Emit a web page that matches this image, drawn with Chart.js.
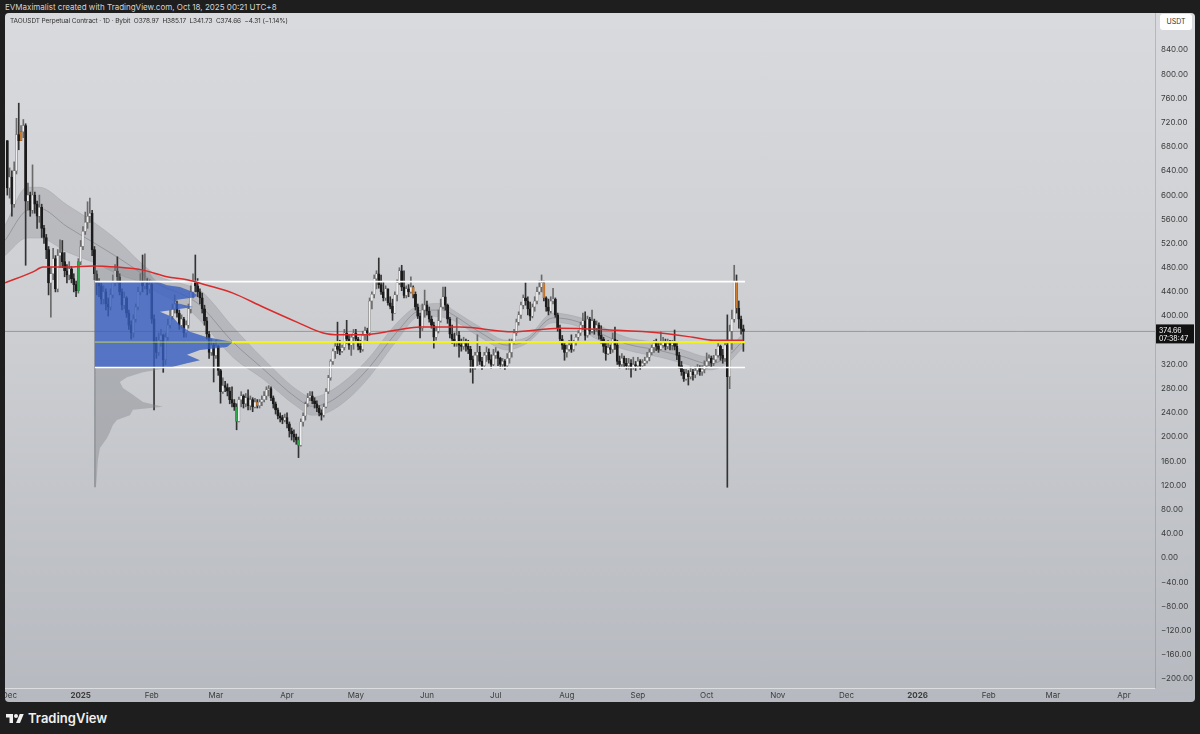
<!DOCTYPE html>
<html>
<head>
<meta charset="utf-8">
<title>TAOUSDT 1D</title>
<script src="https://cdn.jsdelivr.net/npm/chart.js@4.4.1/dist/chart.umd.min.js"></script>
<style>
  body { margin: 0; width: 1200px; height: 734px; background: #1e1e1e; overflow: hidden; position: relative; font-family: Inter, "Noto Sans", sans-serif; }
  #header { position: absolute; left: 5px; top: 2px; font-size: 8px; color: #d4d4d4; white-space: nowrap; }
  #panel { position: absolute; left: 5px; top: 13px; width: 1190px; height: 689px; border-radius: 4px; overflow: hidden;
           background: linear-gradient(180deg, #d9dadd 0%, #cbcdd1 50%, #b6b9bf 100%); }
  #chart { position: absolute; left: 0; top: 0; }
  #legend { position: absolute; left: 5px; top: 4px; font-size: 6.5px; letter-spacing: -0.1px; color: #2f2f2f; white-space: nowrap; }
  #unit { position: absolute; left: 1155px; top: 1px; width: 32px; height: 16px; background: #fff; border-radius: 3px;
          font-size: 7px; color: #333; text-align: center; line-height: 16px; }
  #footer { position: absolute; left: 6px; top: 710px; display: flex; align-items: center; gap: 4px;
            font-size: 13px; font-weight: 600; color: #f0f0f0; }
</style>
</head>
<body>
<div id="header">EVMaximalist created with TradingView.com, Oct 18, 2025 00:21 UTC+8</div>
<div id="panel">
  <canvas id="chart" width="1190" height="689"></canvas>
  <div id="legend">TAOUSDT Perpetual Contract · 1D · Bybit&nbsp; O378.97&nbsp; H385.17&nbsp; L341.73&nbsp; C374.66&nbsp; −4.31 (−1.14%)</div>
  <div id="unit">USDT</div>
</div>
<div id="footer">
  <svg width="18" height="12" viewBox="0 0 36 24"><path d="M14 22H7V11H0V4h14v18z" fill="#f0f0f0"/><circle cx="20" cy="8" r="4" fill="#f0f0f0"/><path d="M28 22h-8l7.5-18h8L28 22z" fill="#f0f0f0"/></svg>
  <span>TradingView</span>
</div>
<script>
// dia 0 = 1 dez 2024, um candle por dia
const firstDay = -1;
const firstOpen = 690;

const closes = [
  612, 630, 585, 640, 700, 690, 705, 715, 590, 600,
  575, 600, 585, 565, 580, 545, 530, 510, 455, 470,
  495, 445, 500, 505, 490, 475, 468, 478, 462, 452,
  442, 490, 515, 540, 555, 565, 570, 510, 470, 455,
  450, 428, 440, 420, 415, 435, 455, 475, 465, 440,
  418, 430, 405, 385, 372, 395, 415, 440, 458, 450,
  455, 445, 452, 395, 355, 340, 360, 368, 328, 365,
  385, 400, 412, 420, 405, 385, 395, 372, 385, 412,
  440, 458, 450, 440, 430, 412, 392, 370, 340, 352,
  335, 350, 310, 275, 285, 282, 276, 262, 256, 250,
  226, 262, 268, 255, 265, 252, 262, 250, 258, 252,
  258, 262, 268, 278, 280, 265, 255, 245, 235, 232,
  228, 232, 222, 210, 205, 200, 195, 186, 225, 235,
  255, 265, 268, 260, 255, 248, 240, 236, 250, 275,
  298, 325, 342, 350, 345, 342, 348, 372, 362, 352,
  365, 372, 362, 350, 345, 368, 376, 372, 425, 436,
  462, 470, 452, 440, 430, 445, 422, 416, 405, 435,
  455, 475, 448, 434, 445, 440, 448, 436, 415, 400,
  380, 410, 418, 408, 395, 385, 365, 375, 392, 415,
  432, 418, 395, 370, 362, 358, 368, 352, 350, 355,
  350, 345, 328, 315, 335, 340, 325, 318, 335, 340,
  328, 320, 335, 340, 330, 320, 325, 318, 330, 340,
  358, 372, 390, 402, 418, 430, 425, 412, 400, 415,
  425, 440, 448, 455, 430, 415, 408, 425, 428, 402,
  380, 362, 352, 340, 345, 352, 345, 356, 365, 372,
  385, 392, 368, 395, 375, 392, 380, 385, 368, 362,
  350, 338, 348, 345, 362, 352, 325, 320, 330, 322,
  318, 322, 315, 320, 318, 325, 318, 322, 326, 332,
  340, 348, 355, 350, 345, 352, 358, 350, 355, 352,
  355, 350, 335, 318, 308, 296, 305, 300, 308, 303,
  310, 315, 308, 312, 318, 325, 330, 322, 328, 335,
  350, 335, 330, 352, 300, 375, 395, 458, 413, 395, 378.97, 374.66
];

const highs = [
  690, 645, 640, 655, 727, 752, 715, 725, 718, 620,
  605, 650, 605, 590, 600, 585, 550, 535, 515, 480,
  512, 500, 510, 526, 525, 505, 485, 490, 482, 470,
  458, 495, 525, 548, 572, 589, 595, 575, 515, 475,
  462, 455, 450, 445, 430, 445, 468, 485, 498, 470,
  445, 440, 432, 410, 392, 402, 420, 448, 470, 501,
  503, 462, 460, 455, 402, 365, 372, 378, 370, 372,
  395, 410, 420, 435, 425, 410, 402, 398, 392, 420,
  450, 470, 501, 462, 445, 438, 418, 398, 375, 362,
  355, 360, 352, 312, 298, 292, 288, 282, 283, 262,
  255, 266, 275, 270, 272, 278, 268, 265, 264, 262,
  262, 268, 275, 283, 285, 283, 268, 258, 248, 240,
  236, 238, 240, 225, 215, 212, 205, 200, 230, 240,
  258, 272, 275, 275, 265, 260, 252, 245, 255, 280,
  302, 328, 346, 356, 390, 360, 352, 378, 393, 368,
  370, 378, 378, 365, 360, 375, 382, 380, 430, 440,
  468, 475, 496, 468, 456, 450, 445, 432, 428, 440,
  460, 480, 484, 475, 450, 452, 465, 450, 440, 420,
  405, 420, 443, 425, 415, 400, 390, 382, 410, 428,
  448, 448, 420, 398, 385, 372, 397, 375, 362, 365,
  362, 360, 350, 334, 340, 369, 350, 332, 340, 349,
  346, 336, 345, 348, 342, 332, 330, 328, 338, 362,
  362, 378, 395, 407, 423, 435, 455, 432, 423, 420,
  432, 448, 458, 468, 458, 432, 428, 432, 446, 430,
  405, 385, 368, 356, 352, 360, 369, 360, 370, 376,
  390, 405, 407, 400, 398, 410, 395, 392, 389, 384,
  365, 355, 360, 352, 372, 382, 360, 334, 338, 334,
  330, 330, 328, 332, 325, 332, 328, 328, 332, 340,
  345, 352, 360, 362, 356, 374, 365, 362, 362, 360,
  360, 377, 356, 340, 325, 312, 312, 310, 316, 312,
  316, 320, 318, 318, 326, 339, 336, 334, 335, 345,
  355, 352, 345, 360, 402, 385, 410, 484, 468, 425, 400, 385.17
];

const lows = [
  600, 595, 565, 580, 635, 675, 690, 695, 484, 575,
  565, 570, 570, 545, 555, 530, 520, 495, 435, 398,
  460, 440, 440, 480, 480, 465, 455, 460, 455, 440,
  432, 438, 485, 510, 535, 545, 555, 500, 460, 435,
  432, 420, 420, 410, 400, 410, 430, 450, 455, 435,
  410, 412, 398, 378, 362, 365, 390, 410, 435, 440,
  445, 435, 438, 388, 245, 330, 335, 350, 307, 320,
  360, 380, 395, 405, 398, 378, 380, 365, 365, 380,
  405, 430, 440, 432, 420, 405, 385, 362, 330, 335,
  291, 330, 302, 256, 272, 275, 268, 255, 250, 244,
  212, 225, 250, 248, 250, 245, 245, 242, 248, 248,
  248, 252, 258, 262, 268, 260, 248, 238, 230, 225,
  222, 225, 215, 200, 195, 192, 188, 166, 185, 218,
  228, 250, 260, 255, 248, 242, 235, 228, 233, 248,
  272, 294, 320, 330, 338, 336, 340, 344, 355, 345,
  335, 345, 356, 344, 340, 342, 360, 358, 368, 412,
  430, 445, 446, 436, 425, 426, 418, 412, 393, 405,
  425, 452, 442, 430, 430, 432, 438, 430, 410, 396,
  364, 376, 398, 402, 390, 380, 347, 360, 372, 390,
  412, 410, 388, 364, 355, 350, 350, 332, 342, 345,
  342, 338, 307, 289, 312, 318, 320, 312, 316, 325,
  322, 314, 318, 330, 318, 314, 315, 312, 316, 322,
  332, 355, 368, 385, 396, 412, 418, 402, 393, 397,
  408, 420, 436, 440, 425, 408, 402, 405, 420, 398,
  375, 358, 345, 327, 332, 342, 340, 342, 352, 360,
  368, 377, 360, 365, 370, 372, 370, 375, 362, 355,
  340, 327, 336, 338, 340, 345, 320, 314, 316, 315,
  312, 312, 299, 312, 310, 316, 312, 315, 318, 322,
  326, 336, 340, 343, 340, 344, 348, 344, 346, 344,
  344, 344, 328, 314, 302, 292, 294, 286, 296, 294,
  298, 304, 302, 302, 306, 314, 318, 316, 318, 324,
  332, 327, 322, 325, 117, 280, 345, 390, 405, 380, 370, 341.73
];

// candles destacados pelo indicador de cor
const greenDays = [30, 99, 126];
const orangeDays = [5, 108, 176, 233, 317];

// média móvel (vermelha)
const maDays   = [-2, 10.2, 14.6, 25, 36.4, 46.9, 58.2, 68.6, 77.4, 86.1, 97.4, 110.5, 125.3, 136.7, 144, 154.1, 169, 179, 196.4, 219.5, 240, 261.8, 283.7, 298, 306.8, 320];
const maValues = [455, 473, 481, 481, 483, 481, 476, 465, 460, 451, 438, 415, 390, 372, 369, 369, 377, 382, 382, 374, 380, 377, 372, 365, 360, 360];

// faixa cinza
const bandDays  = [-2, 7.6, 13, 25, 36.4, 48, 57, 64, 77.4, 83, 97.4, 110.5, 125.4, 132, 138.4, 148.5, 157, 169, 179, 189, 193.4, 205.2, 216.9, 225.6, 237, 248.3, 254.5, 269, 283.7, 293.7, 305.5, 313, 320];
const bandUpper = [550, 613, 613, 584, 556, 522, 489, 468, 451, 443, 382, 330, 278, 266, 273, 300, 332, 389, 418, 421, 410, 382, 360, 365, 405, 398, 389, 365, 355, 344, 332, 344, 372];
const bandLower = [500, 529, 529, 506, 489, 468, 456, 440, 413, 393, 332, 296, 250, 236, 240, 266, 300, 360, 400, 398, 393, 365, 344, 355, 389, 382, 365, 344, 332, 322, 311, 322, 349];
const bandMid   = [525, 575, 578, 548, 522, 495, 472, 454, 432, 418, 357, 313, 264, 251, 256, 283, 316, 374, 409, 410, 402, 373, 352, 360, 397, 390, 377, 354, 343, 333, 321, 333, 360];

// perfil de volume (preço -> volume relativo)
const profilePrices = [481, 478, 473, 466, 457, 451, 448, 440, 435, 431, 427, 422, 415, 407, 398, 385, 374, 365, 357, 349,
                       344, 336, 327, 322, 315, 307, 299, 291, 281, 270, 258, 250, 245, 236, 228, 220, 208, 198, 182, 162, 137, 117];
const profileVolume = [10, 45, 55, 57, 62, 72, 85, 98, 102, 100, 82, 80, 98, 65, 78, 85, 95, 112, 138, 132,
                       105, 92, 105, 92, 75, 48, 32, 25, 28, 38, 48, 68, 38, 35, 22, 18, 15, 12, 5, 3, 2, 1];

// níveis
const vaHigh = 457;
const vaLow = 315;
const pocPrice = 357;
const lastPrice = 374.66;

// eixos
const monthDays   = [0, 31, 62, 90, 121, 151, 182, 212, 243, 274, 304, 335, 365, 396, 427, 455, 486];
const monthLabels = ['Dec', '2025', 'Feb', 'Mar', 'Apr', 'May', 'Jun', 'Jul', 'Aug', 'Sep', 'Oct', 'Nov', 'Dec', '2026', 'Feb', 'Mar', 'Apr'];
const priceTicks  = [-200, -160, -120, -80, -40, 0, 40, 80, 120, 160, 200, 240, 280, 320, 360, 400, 440, 480, 520, 560, 600, 640, 680, 720, 760, 800, 840];

const xMin = -2, xMax = 499.5;
const yMin = -214.9, yMax = 901.1;
const levelStart = 37.2, levelEnd = 320.7, pocBoldStart = 97;
const profileBase = 37.2;
const profileDaysPerUnit = 1 / 2.293;

Chart.defaults.font.family = 'Inter, "Noto Sans", sans-serif';

// monta os candles
const opens = closes.map((c, i) => i === 0 ? firstOpen : closes[i - 1]);
const dayOf = i => firstDay + i;

const bodyFill = closes.map((c, i) => {
    const d = dayOf(i);
    if (greenDays.includes(d)) return '#2ea84a';
    if (orangeDays.includes(d)) return '#cf7d2e';
    return c >= opens[i] ? '#eeeef0' : '#1b1b1b';
});
const bodyEdge = closes.map((c, i) => {
    const d = dayOf(i);
    if (greenDays.includes(d)) return '#1f7f36';
    if (orangeDays.includes(d)) return '#8c5222';
    return c >= opens[i] ? '#6e6e6e' : '#1b1b1b';
});
const wickColor = closes.map((c, i) => c >= opens[i] ? '#6a6a6a' : '#333333');

// polígono do perfil (só as linhas que passam no filtro)
function profileShape(keep) {
    const pts = [];
    profilePrices.forEach((p, i) => {
        if (keep(p)) pts.push({ x: profileBase + profileVolume[i] * profileDaysPerUnit, y: p });
    });
    return [{ x: profileBase, y: pts[0].y }, ...pts, { x: profileBase, y: pts[pts.length - 1].y }];
}

const hLine = (y, x0, x1) => [{ x: x0, y: y }, { x: x1, y: y }];
const series = (xs, ys) => xs.map((x, i) => ({ x: x, y: ys[i] }));

// etiqueta do último preço no eixo
const priceTag = {
    id: 'priceTag',
    afterDraw(chart) {
        const { ctx, chartArea, scales } = chart;
        const y = scales.y.getPixelForValue(lastPrice);
        ctx.save();
        ctx.fillStyle = '#111';
        ctx.fillRect(chartArea.right + 1, y - 7, 38, 19);
        ctx.fillStyle = '#fff';
        ctx.font = '7px Inter, sans-serif';
        ctx.textBaseline = 'middle';
        ctx.fillText(lastPrice.toFixed(2), chartArea.right + 4, y - 1);
        ctx.fillText('07:38:47', chartArea.right + 4, y + 7);
        ctx.restore();
    }
};

const ctx = document.getElementById('chart').getContext('2d');

new Chart(ctx, {
    type: 'line',
    data: {
        datasets: [
            {   // faixa superior
                data: series(bandDays, bandUpper),
                borderColor: 'rgba(150,150,155,0.3)', borderWidth: 1, pointRadius: 0, cubicInterpolationMode: 'monotone', order: 17
            },
            {   // faixa inferior (preenche até a superior)
                data: series(bandDays, bandLower),
                fill: '-1', backgroundColor: 'rgba(125,127,133,0.28)',
                borderColor: 'rgba(150,150,155,0.3)', borderWidth: 1, pointRadius: 0, cubicInterpolationMode: 'monotone', order: 16
            },
            {   // linha central da faixa
                data: series(bandDays, bandMid),
                borderColor: 'rgba(85,85,90,0.5)', borderWidth: 0.7, pointRadius: 0, cubicInterpolationMode: 'monotone', order: 15
            },
            {   // último preço
                data: hLine(lastPrice, xMin, xMax),
                borderColor: 'rgba(110,110,115,0.55)', borderWidth: 1, pointRadius: 0, order: 14
            },
            {   // pavios
                type: 'bar',
                data: closes.map((c, i) => ({ x: dayOf(i), y: [lows[i], highs[i]] })),
                backgroundColor: wickColor, barThickness: 1, grouped: false, borderWidth: 0, order: 5
            },
            {   // corpos
                type: 'bar',
                data: closes.map((c, i) => ({ x: dayOf(i), y: [opens[i], c] })),
                backgroundColor: bodyFill, borderColor: bodyEdge, borderWidth: 0.5, borderSkipped: false,
                barThickness: 2.2, minBarLength: 1, grouped: false, order: 4
            },
            {   // perfil completo (cinza), por cima dos candles
                data: profileShape(() => true),
                fill: 'shape', backgroundColor: 'rgba(128,130,136,0.40)', borderWidth: 0, pointRadius: 0, order: 3
            },
            {   // área de valor (azul)
                data: profileShape(p => p >= vaLow && p <= vaHigh),
                fill: 'shape', backgroundColor: 'rgba(40,86,204,0.66)', borderWidth: 0, pointRadius: 0, order: 2.9
            },
            {   // borda esquerda do perfil
                data: [{ x: profileBase, y: profilePrices[profilePrices.length - 1] }, { x: profileBase, y: profilePrices[0] }],
                borderColor: 'rgba(110,112,118,0.8)', borderWidth: 1, pointRadius: 0, order: 2.8
            },
            {   // topo da área de valor
                data: hLine(vaHigh, levelStart, levelEnd),
                borderColor: '#ffffff', borderWidth: 1.6, pointRadius: 0, order: 2
            },
            {   // fundo da área de valor
                data: hLine(vaLow, levelStart, levelEnd),
                borderColor: '#ffffff', borderWidth: 1.6, pointRadius: 0, order: 2
            },
            {   // POC fino dentro do perfil
                data: hLine(pocPrice, levelStart, pocBoldStart),
                borderColor: 'rgba(215,230,70,0.85)', borderWidth: 1, pointRadius: 0, order: 2
            },
            {   // POC grosso
                data: hLine(pocPrice, pocBoldStart, levelEnd),
                borderColor: '#f2f21c', borderWidth: 2.4, pointRadius: 0, order: 1
            },
            {   // média móvel
                data: series(maDays, maValues),
                borderColor: '#d92b2b', borderWidth: 1.5, pointRadius: 0, cubicInterpolationMode: 'monotone', order: 0
            }
        ]
    },
    options: {
        responsive: false,
        animation: false,
        events: [],
        layout: { padding: 0 },
        plugins: { legend: { display: false }, tooltip: { enabled: false } },
        scales: {
            x: {
                type: 'linear', min: xMin, max: xMax, offset: false,
                grid: { display: false, drawTicks: false },
                border: { display: true, color: 'rgba(255,255,255,0.5)' },
                ticks: {
                    autoSkip: false, maxRotation: 0, padding: 3, color: '#3b3b3b',
                    font: c => ({ size: 8, weight: /^\d{4}$/.test(monthLabels[c.index] || '') ? 'bold' : 'normal' }),
                    callback: (v, i) => monthLabels[i]
                },
                afterBuildTicks: s => { s.ticks = monthDays.map(v => ({ value: v })); },
                afterFit: s => { s.height = 14; s.paddingLeft = 0; s.paddingRight = 0; }
            },
            y: {
                type: 'linear', position: 'right', min: yMin, max: yMax,
                grid: { display: false, drawTicks: false },
                border: { display: true, color: 'rgba(120,120,125,0.35)' },
                ticks: {
                    padding: 6, color: '#3b3b3b', font: { size: 8 },
                    callback: v => Math.abs(v - lastPrice) < 16 ? '' : (v < 0 ? '−' : '') + Math.abs(v).toFixed(2)
                },
                afterBuildTicks: s => { s.ticks = priceTicks.map(v => ({ value: v })); },
                afterFit: s => { s.width = 40; s.paddingTop = 0; s.paddingBottom = 0; }
            }
        }
    },
    plugins: [priceTag]
});
</script>
</body>
</html>
